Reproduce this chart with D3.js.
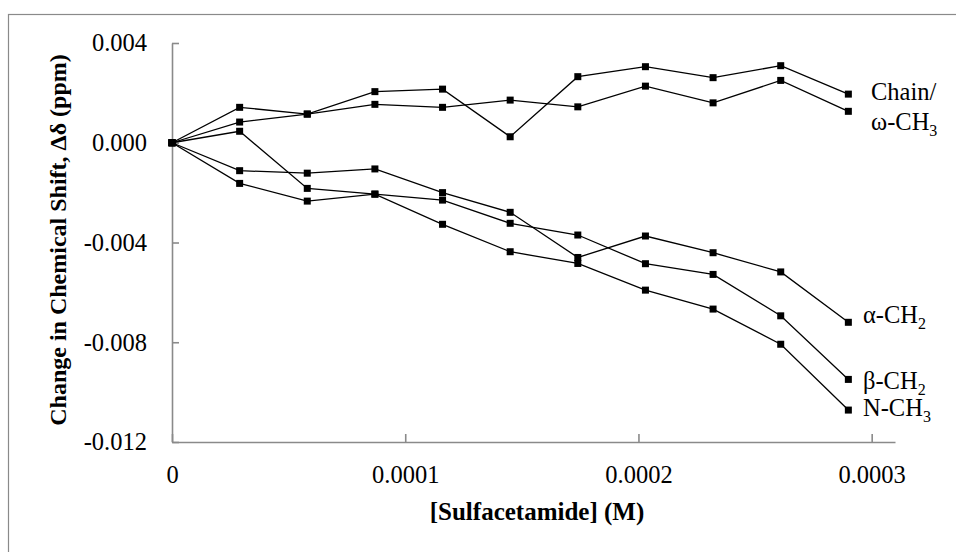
<!DOCTYPE html>
<html>
<head>
<meta charset="utf-8">
<script src="https://cdn.jsdelivr.net/npm/d3@7"></script>
<style>
  body { margin: 0; background: #fff; }
  svg text { font-family: "Liberation Serif", Tinos, "Times New Roman", Times, "DejaVu Serif", serif; fill: #000; }
</style>
</head>
<body>
<div class="chart"></div>
<script>
// concentration of sulfacetamide (M)
var conc = [0, 0.000029, 0.000058, 0.000087, 0.000116, 0.000145, 0.000174, 0.000203, 0.000232, 0.000261, 0.00029];

// change in chemical shift (ppm)
var chain  = [0, 0.00142, 0.00115, 0.00205, 0.00215, 0.00024, 0.00265, 0.00305, 0.00261, 0.00309, 0.00195];
var omega  = [0, 0.00083, 0.00115, 0.00154, 0.00142, 0.00171, 0.00144, 0.00227, 0.00160, 0.00250, 0.00126];
var alpha  = [0, -0.00112, -0.00122, -0.00105, -0.00200, -0.00279, -0.00460, -0.00374, -0.00441, -0.00518, -0.00720];
var beta   = [0, 0.00046, -0.00183, -0.00206, -0.00230, -0.00323, -0.00370, -0.00485, -0.00528, -0.00694, -0.00949];
var nMethyl = [0, -0.00163, -0.00234, -0.00206, -0.00327, -0.00437, -0.00484, -0.00591, -0.00667, -0.00808, -0.01072];

var xTicks = [0, 0.0001, 0.0002, 0.0003];
var yTicks = [0.004, 0, -0.004, -0.008, -0.012];

var seriesList = [chain, omega, alpha, beta, nMethyl];

var w = 956, h = 552;
var gray = "#8a8a8a";
var serif = '"Liberation Serif", Tinos, "Times New Roman", Times, "DejaVu Serif", serif';

var svg = d3.select("div.chart")
    .append("svg")
    .attr("width", w)
    .attr("height", h);

// chart area border (cropped at right and bottom)
svg.append("rect")
    .attr("x", 8.5)
    .attr("y", 14.5)
    .attr("width", 1000)
    .attr("height", 600)
    .attr("fill", "none")
    .attr("stroke", gray)
    .attr("stroke-width", 1.2);

var x = d3.scaleLinear().domain([0, 0.00031]).range([172, 895]);
var y = d3.scaleLinear().domain([-0.012, 0.004]).range([442, 43]);

//y axis, ticks pointing inwards
var yAxis = svg.append("g")
    .attr("transform", "translate(" + x(0) + ",0)")
    .call(d3.axisLeft(y)
        .tickValues(yTicks)
        .tickSizeInner(-7)
        .tickSizeOuter(0)
        .tickPadding(25)
        .tickFormat(function(d){ return d.toFixed(3); }));

//x axis
var xAxis = svg.append("g")
    .attr("transform", "translate(0," + y(-0.012) + ")")
    .call(d3.axisBottom(x)
        .tickValues(xTicks)
        .tickSizeInner(-8)
        .tickSizeOuter(0)
        .tickPadding(24)
        .tickFormat(function(d){ return d === 0 ? "0" : d.toFixed(4); }));

[xAxis, yAxis].forEach(function(a){
    a.attr("font-family", serif);
    a.select(".domain").attr("stroke", gray).attr("stroke-width", 1.6);
    a.selectAll(".tick line").attr("stroke", gray).attr("stroke-width", 1.6);
    a.selectAll(".tick text")
        .attr("font-size", 24.5)
        .attr("fill", "#000");
});

// axis titles
svg.append("text")
    .attr("transform", "translate(66,240) rotate(-90)")
    .attr("text-anchor", "middle")
    .attr("font-size", 24)
    .attr("font-weight", "bold")
    .text("Change in Chemical Shift, Δδ (ppm)");

svg.append("text")
    .attr("x", 537)
    .attr("y", 520)
    .attr("text-anchor", "middle")
    .attr("font-size", 25)
    .attr("font-weight", "bold")
    .text("[Sulfacetamide] (M)");

var line = d3.line()
    .x(function(d, i){ return x(conc[i]); })
    .y(function(d){ return y(d); });

var groups = svg.selectAll("g.series")
    .data(seriesList)
    .enter()
    .append("g")
    .attr("class", "series");

groups.append("path")
    .attr("d", function(d){ return line(d); })
    .attr("fill", "none")
    .attr("stroke", "#000")
    .attr("stroke-width", 1.3);

var ms = 7;
groups.selectAll("rect")
    .data(function(d){ return d; })
    .enter()
    .append("rect")
    .attr("x", function(d, i){ return x(conc[i]) - ms / 2; })
    .attr("y", function(d){ return y(d) - ms / 2; })
    .attr("width", ms)
    .attr("height", ms)
    .attr("fill", "#000");

// series labels: [main text, subscript, x, baseline]
var labels = [
    ["Chain/", "", 871, 100],
    ["ω-CH", "3", 871, 130],
    ["α-CH", "2", 863, 323],
    ["β-CH", "2", 863, 389],
    ["N-CH", "3", 863, 416]
];

labels.forEach(function(l){
    var t = svg.append("text")
        .attr("x", l[2])
        .attr("y", l[3])
        .attr("font-size", 24.5);
    t.append("tspan").text(l[0]);
    if(l[1]){
        t.append("tspan")
            .attr("dy", 6)
            .attr("font-size", 16)
            .text(l[1]);
    }
});
</script>
</body>
</html>
